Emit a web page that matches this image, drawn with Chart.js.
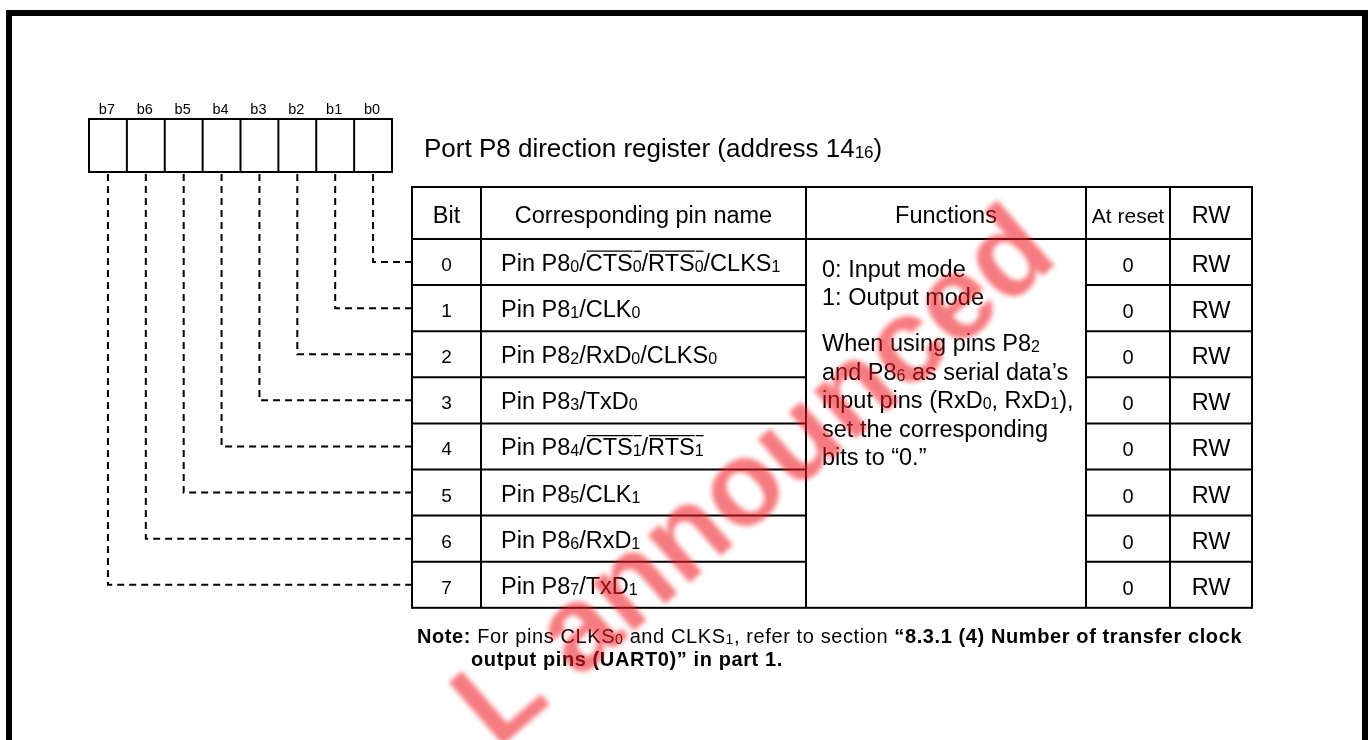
<!DOCTYPE html>
<html>
<head>
<meta charset="utf-8">
<title>Port P8 direction register</title>
<script src="https://cdn.jsdelivr.net/npm/chart.js@4.4.0/dist/chart.umd.min.js"></script>
<style>
  html, body { margin: 0; padding: 0; background: #fff; }
  #regChart { display: block; }
</style>
</head>
<body>
<canvas id="regChart" width="1368" height="740"></canvas>
<script>
// Register bits, left to right as drawn above the table.
const bitLabels = ["b7", "b6", "b5", "b4", "b3", "b2", "b1", "b0"];

// Table rows, bit 0 at the top. {..} = subscript, [..] = overline, *..* = bold
const bitNumbers = ["0", "1", "2", "3", "4", "5", "6", "7"];
const pinNames = [
    "Pin P8{0}/[CTS{0}]/[RTS{0}]/CLKS{1}",
    "Pin P8{1}/CLK{0}",
    "Pin P8{2}/RxD{0}/CLKS{0}",
    "Pin P8{3}/TxD{0}",
    "Pin P8{4}/[CTS{1}]/[RTS{1}]",
    "Pin P8{5}/CLK{1}",
    "Pin P8{6}/RxD{1}",
    "Pin P8{7}/TxD{1}"
];
const resetValues = ["0", "0", "0", "0", "0", "0", "0", "0"];
const rwValues = ["RW", "RW", "RW", "RW", "RW", "RW", "RW", "RW"];
const headers = ["Bit", "Corresponding pin name", "Functions", "At reset", "RW"];
const functionModes = [
    "0: Input mode",
    "1: Output mode"
];
const functionNote = [
    "When using pins P8{2}",
    "and P8{6} as serial data\u2019s",
    "input pins (RxD{0}, RxD{1}),",
    "set the corresponding",
    "bits to \u201c0.\u201d"
];
const titleText = "Port P8 direction register (address 14{16})";
const noteLines = [
    "*Note:* For pins CLKS{0} and CLKS{1}, refer to section *\u201c8.3.1 (4) Number of transfer clock*",
    "*output pins (UART0)\u201d in part 1.*"
];
const watermarkText = "L announced";

// Layout (figure units = pixels of the 1368x740 picture)
const layout = {
    frame: { x0: 9, y0: 13, x1: 1365, y1: 800 },
    reg: { x0: 89, x1: 392, y0: 119, y1: 172, labelY: 114 },
    title: { x: 424, y: 157 },
    cols: [412, 481, 806, 1086, 1170, 1252],
    headTop: 187,
    headBottom: 239,
    rowH: 46.1,
    pinX: 501,
    funcX: 822,
    modesY: 277, modesStep: 28,
    noteY: 351, noteStep: 28.5,
    note: [{ x: 417, y: 643 }, { x: 471, y: 666 }],
    wm: { x: 497, y: 750, angle: -41, size: 120 }
};

const FONT = "'Liberation Sans', Arial, sans-serif";

function cellCenter(k) {
    const w = (layout.reg.x1 - layout.reg.x0) / bitLabels.length;
    return layout.reg.x0 + w * (k + 0.5);
}

function rowCenter(n) {
    return layout.headBottom + layout.rowH * (n + 0.5);
}

// Split markup into runs of plain / subscript / overline / bold text.
function parseRich(str) {
    const runs = [];
    let sub = false, over = false, bold = false, buf = "";
    const push = () => {
        if (buf) runs.push({ text: buf, sub: sub, over: over, bold: bold });
        buf = "";
    };
    for (const ch of str) {
        if (ch === "{") { push(); sub = true; }
        else if (ch === "}") { push(); sub = false; }
        else if (ch === "[") { push(); over = true; }
        else if (ch === "]") { push(); over = false; }
        else if (ch === "*") { push(); bold = !bold; }
        else buf += ch;
    }
    push();
    return runs;
}

function richFont(r, st) {
    const size = r.sub ? st.subSize : st.size;
    return (r.bold ? "bold " : "") + size + "px " + st.family;
}

function drawRich(ctx, str, x, y, st) {
    const runs = parseRich(str);
    ctx.save();
    ctx.letterSpacing = (st.spacing || 0) + "px";
    let total = 0;
    runs.forEach(r => {
        ctx.font = richFont(r, st);
        r.w = ctx.measureText(r.text).width;
        total += r.w;
    });
    let cx = st.align === "center" ? x - total / 2 : x;
    ctx.textAlign = "left";
    ctx.textBaseline = "alphabetic";
    ctx.fillStyle = "#000";
    ctx.strokeStyle = "#000";
    ctx.lineWidth = 1.3;
    runs.forEach(r => {
        ctx.font = richFont(r, st);
        ctx.fillText(r.text, cx, y + (r.sub ? st.subDrop : 0));
        if (r.over) {
            const oy = y - st.size * 0.716 - 3;
            ctx.beginPath();
            ctx.moveTo(cx + 1, oy);
            ctx.lineTo(cx + r.w, oy);
            ctx.stroke();
        }
        cx += r.w;
    });
    ctx.restore();
}

// Dashed connectors from each register bit to its table row.
const connectorSets = bitLabels.map((lbl, k) => {
    const n = bitLabels.length - 1 - k;
    return {
        label: lbl,
        data: [
            { x: cellCenter(k), y: layout.reg.y1 + 2 },
            { x: cellCenter(k), y: rowCenter(n) },
            { x: layout.cols[0], y: rowCenter(n) }
        ],
        showLine: true,
        borderColor: "#000",
        borderWidth: 2,
        borderDash: [7, 5],
        pointRadius: 0,
        fill: false,
        tension: 0
    };
});

const registerFigure = {
    id: "registerFigure",
    beforeDatasetsDraw(chart) {
        const ctx = chart.ctx;
        const px = v => chart.scales.x.getPixelForValue(v);
        const py = v => chart.scales.y.getPixelForValue(v);
        const L = layout;

        ctx.save();
        ctx.fillStyle = "#fff";
        ctx.fillRect(0, 0, chart.width, chart.height);

        // outer frame
        ctx.strokeStyle = "#000";
        ctx.lineWidth = 6;
        ctx.strokeRect(px(L.frame.x0), py(L.frame.y0), px(L.frame.x1) - px(L.frame.x0), py(L.frame.y1) - py(L.frame.y0));

        // register box
        ctx.lineWidth = 2;
        ctx.strokeRect(px(L.reg.x0), py(L.reg.y0), px(L.reg.x1) - px(L.reg.x0), py(L.reg.y1) - py(L.reg.y0));
        const cw = (L.reg.x1 - L.reg.x0) / bitLabels.length;
        for (let k = 1; k < bitLabels.length; k++) {
            ctx.beginPath();
            ctx.moveTo(px(L.reg.x0 + cw * k), py(L.reg.y0));
            ctx.lineTo(px(L.reg.x0 + cw * k), py(L.reg.y1));
            ctx.stroke();
        }
        bitLabels.forEach((lbl, k) => {
            drawRich(ctx, lbl, px(cellCenter(k)) - 1, py(L.reg.labelY), { size: 14.5, subSize: 10, subDrop: 0, family: FONT, align: "center" });
        });

        // title
        drawRich(ctx, titleText, px(L.title.x), py(L.title.y), { size: 26, subSize: 17, subDrop: 1, family: FONT });

        // table grid
        const c = L.cols;
        const top = py(L.headTop), bottom = py(L.headBottom + L.rowH * bitNumbers.length);
        ctx.lineWidth = 2;
        ctx.strokeRect(px(c[0]), top, px(c[c.length - 1]) - px(c[0]), bottom - top);
        for (let i = 1; i < c.length - 1; i++) {
            ctx.beginPath();
            ctx.moveTo(px(c[i]), top);
            ctx.lineTo(px(c[i]), bottom);
            ctx.stroke();
        }
        ctx.beginPath();
        ctx.moveTo(px(c[0]), py(L.headBottom));
        ctx.lineTo(px(c[c.length - 1]), py(L.headBottom));
        ctx.stroke();
        for (let n = 1; n < bitNumbers.length; n++) {
            const y = py(L.headBottom + L.rowH * n);
            ctx.beginPath();
            ctx.moveTo(px(c[0]), y);
            ctx.lineTo(px(c[2]), y);
            ctx.moveTo(px(c[3]), y);
            ctx.lineTo(px(c[5]), y);
            ctx.stroke();
        }

        // headers
        const headY = py((L.headTop + L.headBottom) / 2 + 10);
        headers.forEach((h, i) => {
            const size = h === "At reset" ? 21 : 23.5;
            drawRich(ctx, h, px((c[i] + c[i + 1]) / 2), headY, { size: size, subSize: 16, subDrop: 1, family: FONT, align: "center" });
        });

        // rows
        bitNumbers.forEach((b, n) => {
            const y = py(rowCenter(n) + 9);
            drawRich(ctx, b, px((c[0] + c[1]) / 2), y, { size: 19, subSize: 13, subDrop: 1, family: FONT, align: "center" });
            drawRich(ctx, pinNames[n], px(L.pinX), y, { size: 23.5, subSize: 16, subDrop: 1, family: FONT });
            drawRich(ctx, resetValues[n], px((c[3] + c[4]) / 2), py(rowCenter(n) + 10), { size: 20, subSize: 14, subDrop: 1, family: FONT, align: "center" });
            drawRich(ctx, rwValues[n], px((c[4] + c[5]) / 2), py(rowCenter(n) + 10), { size: 23.5, subSize: 16, subDrop: 1, family: FONT, align: "center" });
        });

        // functions text
        const fst = { size: 23.5, subSize: 16, subDrop: 1, family: FONT };
        functionModes.forEach((t, i) => {
            drawRich(ctx, t, px(L.funcX), py(L.modesY + L.modesStep * i), fst);
        });
        functionNote.forEach((t, i) => {
            drawRich(ctx, t, px(L.funcX), py(L.noteY + L.noteStep * i), fst);
        });

        // note
        noteLines.forEach((t, i) => {
            drawRich(ctx, t, px(L.note[i].x), py(L.note[i].y), { size: 20, subSize: 14, subDrop: 1, family: FONT, spacing: 0.6 });
        });
        ctx.restore();
    },
    afterDatasetsDraw(chart) {
        const ctx = chart.ctx;
        const px = v => chart.scales.x.getPixelForValue(v);
        const py = v => chart.scales.y.getPixelForValue(v);
        const wm = layout.wm;
        ctx.save();
        ctx.translate(px(wm.x), py(wm.y));
        ctx.rotate(wm.angle * Math.PI / 180);
        ctx.font = "bold " + wm.size + "px " + FONT;
        ctx.fillStyle = "rgba(237, 28, 36, 0.58)";
        ctx.filter = "blur(2.5px)";
        ctx.textBaseline = "alphabetic";
        ctx.fillText(watermarkText, 0, 0);
        ctx.restore();
    }
};

const regChart = new Chart(document.getElementById("regChart"), {
    type: "scatter",
    data: { datasets: connectorSets },
    options: {
        responsive: false,
        animation: false,
        devicePixelRatio: 1,
        layout: { padding: 0 },
        plugins: {
            legend: { display: false },
            tooltip: { enabled: false },
            title: { display: false }
        },
        events: [],
        scales: {
            x: { type: "linear", min: 0, max: 1368, display: false },
            y: { type: "linear", min: 0, max: 740, reverse: true, display: false }
        },
        elements: { line: { borderCapStyle: "butt" } },
        clip: false
    },
    plugins: [registerFigure]
});
</script>
</body>
</html>
